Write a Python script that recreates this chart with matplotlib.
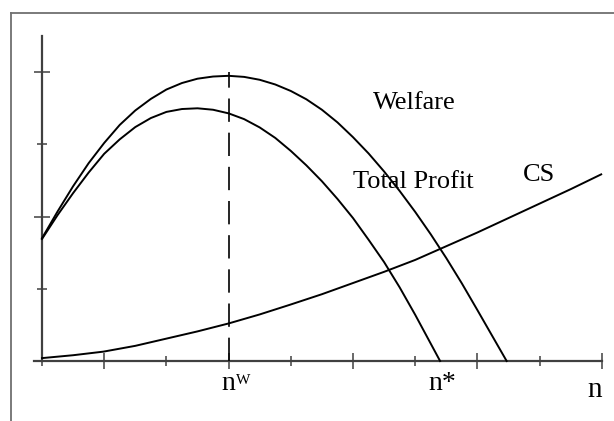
import matplotlib
matplotlib.use("Agg")
import matplotlib.pyplot as plt
from matplotlib.lines import Line2D

# values (x in units of n, y in arbitrary units)
welfare_x = [0, 0.25, 0.5, 0.75, 1.0, 1.25, 1.5, 1.75, 2.0, 2.25, 2.5, 2.75, 3.0,
             3.25, 3.5, 3.75, 4.0, 4.25, 4.5, 4.75, 5.0, 5.25, 5.5, 5.75, 6.0,
             6.25, 6.5, 6.75, 7.0, 7.25, 7.47]
welfare_y = [1.70, 2.07, 2.42, 2.74, 3.02, 3.27, 3.47, 3.63, 3.76, 3.85, 3.91, 3.94, 3.95,
             3.935, 3.895, 3.83, 3.74, 3.625, 3.48, 3.305, 3.10, 2.875, 2.625, 2.355, 2.065,
             1.755, 1.425, 1.075, 0.705, 0.33, 0.0]

profit_x = [0, 0.25, 0.5, 0.75, 1.0, 1.25, 1.5, 1.75, 2.0, 2.25, 2.5, 2.75, 3.0,
            3.25, 3.5, 3.75, 4.0, 4.25, 4.5, 4.75, 5.0, 5.25, 5.5, 5.75, 6.0, 6.25, 6.40]
profit_y = [1.69, 2.02, 2.325, 2.61, 2.87, 3.07, 3.24, 3.365, 3.45, 3.49, 3.50, 3.48, 3.43,
            3.35, 3.235, 3.09, 2.91, 2.71, 2.49, 2.245, 1.98, 1.68, 1.37, 1.02, 0.64, 0.24, 0.0]

cs_x = [0, 0.5, 0.99, 1.5, 2.0, 2.5, 3.0, 3.5, 3.99, 4.5, 5.0, 5.5, 6.0, 6.5,
        7.0, 7.5, 8.0, 8.5, 8.99]
cs_y = [0.04, 0.08, 0.13, 0.21, 0.31, 0.41, 0.52, 0.645, 0.78, 0.925, 1.08, 1.235, 1.40, 1.59,
        1.78, 1.98, 2.18, 2.38, 2.585]

n_w = 3.0
n_w_top = 4.0
x_major = [1, 3, 5, 7, 9]
x_minor = [0, 2, 4, 6, 8]
y_major = [2, 4]
y_minor = [1, 3]

plt.rcParams['font.family'] = ['Liberation Serif', 'DejaVu Serif']

fig = plt.figure(figsize=(6.14, 4.21), dpi=100)
ax = fig.add_axes([0, 0, 1, 1])
ax.set_xlim(-0.675, 9.196)
ax.set_ylim(-0.831, 5.0)

axis_col = '#404040'
for side in ['top', 'right']:
    ax.spines[side].set_visible(False)
ax.spines['left'].set_position(('data', 0))
ax.spines['bottom'].set_position(('data', 0))
ax.spines['left'].set_bounds(0, 4.5)
ax.spines['bottom'].set_bounds(-0.13, 9.0)
for side in ['left', 'bottom']:
    ax.spines[side].set_color(axis_col)
    ax.spines[side].set_linewidth(1.6)

ax.set_xticks(x_major)
ax.set_xticks(x_minor, minor=True)
ax.set_yticks(y_major)
ax.set_yticks(y_minor, minor=True)
ax.tick_params(which='both', direction='inout', color=axis_col, width=1.1,
               labelbottom=False, labelleft=False)
ax.tick_params(which='major', length=11.5)
ax.tick_params(which='minor', length=6.5)

lw = 1.4
ax.plot(welfare_x, welfare_y, color='black', lw=lw, zorder=3)
ax.plot(profit_x, profit_y, color='black', lw=lw, zorder=3)
ax.plot(cs_x, cs_y, color='black', lw=lw, zorder=3)
ax.plot([n_w, n_w], [0, n_w_top], color='black', lw=1.2,
        linestyle=(0, (14, 6.5)), zorder=3)

ax.text(5.32, 3.49, 'Welfare', fontsize=19, ha='left', va='baseline')
ax.text(5.0, 2.40, 'Total Profit', fontsize=19, ha='left', va='baseline')
ax.text(7.73, 2.49, 'CS', fontsize=19, ha='left', va='baseline')

ax.text(2.89, -0.40, 'n', fontsize=20, ha='left', va='baseline')
ax.text(3.12, -0.32, 'W', fontsize=11, ha='left', va='baseline')
ax.text(6.21, -0.40, 'n*', fontsize=20, ha='left', va='baseline')
ax.text(8.76, -0.50, 'n', fontsize=21, ha='left', va='baseline')

# outer frame (only top and left edges are inside the picture)
W, H = 614, 421
fx, fy = 11 / W, 1 - 13 / H
fig.add_artist(Line2D([fx, 1], [fy, fy], transform=fig.transFigure, color='#707070', lw=1.3))
fig.add_artist(Line2D([fx, fx], [0, fy], transform=fig.transFigure, color='#707070', lw=1.3))

fig.savefig('out.png', dpi=100)
